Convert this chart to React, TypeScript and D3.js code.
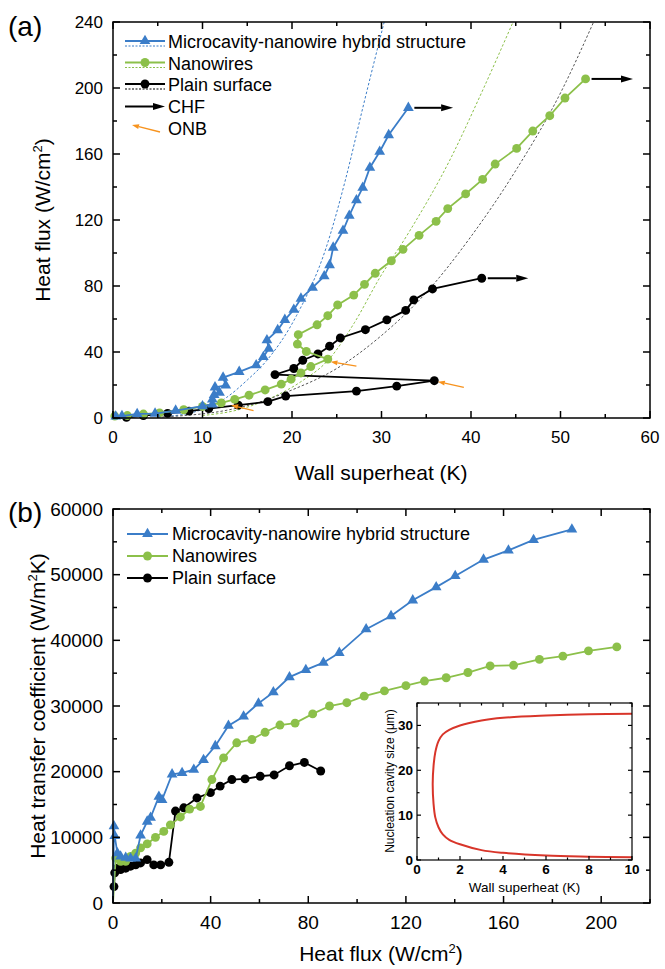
import React from "react";
import * as d3 from "d3";

type Pt = [number, number];

// ---- panel (a): wall superheat (K) vs heat flux (W/cm2)
const hybridA: Pt[] = [
  [0.3, 1.0], [1.0, 1.2], [2.7, 2.5], [4.7, 2.7], [7.0, 4.5], [10.0, 7.2], [11.1, 8.2],
  [11.1, 11.3], [11.3, 14.0], [11.9, 15.4], [11.4, 18.6], [12.6, 19.8], [12.3, 24.5],
  [14.1, 28.0], [16.0, 32.0], [16.8, 37.0], [17.4, 42.0], [17.2, 47.2], [18.4, 53.3],
  [19.2, 59.5], [20.2, 65.6], [21.0, 72.4], [22.3, 79.0], [23.6, 86.0], [24.2, 92.7],
  [24.6, 103.3], [25.7, 113.5], [26.4, 122.6], [27.2, 132.0], [27.9, 139.6], [28.7, 151.7],
  [29.8, 161.4], [30.8, 171.5], [33.0, 188.0],
];
const nanowireA: Pt[] = [
  [0.2, 1.2], [1.6, 1.5], [3.4, 2.4], [5.2, 3.1], [7.9, 5.0], [10.0, 7.0], [12.1, 9.2],
  [13.6, 11.3], [15.2, 13.8], [17.0, 17.0], [18.8, 20.5], [19.9, 23.5], [21.0, 27.3],
  [22.1, 31.2], [24.0, 35.7], [21.6, 40.3], [20.6, 44.8], [20.7, 50.5], [22.8, 56.5],
  [24.0, 62.0], [25.1, 68.5], [26.9, 74.5], [28.1, 81.0], [29.3, 87.7], [31.1, 95.3],
  [32.4, 102.2], [34.2, 110.7], [36.1, 119.2], [37.4, 126.9], [39.4, 135.8], [41.3, 144.6],
  [42.7, 153.9], [45.1, 163.4], [46.9, 173.9], [48.8, 183.2], [50.5, 193.9], [52.8, 205.5],
];
const plainA: Pt[] = [
  [1.5, 0.4], [3.4, 1.5], [6.1, 2.8], [8.5, 4.2], [10.7, 5.7], [14.0, 7.8], [17.3, 9.9],
  [19.3, 13.3], [27.2, 16.3], [31.7, 19.3], [35.9, 22.6], [18.1, 26.3], [20.2, 30.0],
  [21.2, 35.0], [22.9, 38.8], [24.2, 43.5], [25.4, 48.5], [28.2, 53.5], [30.6, 59.5],
  [32.7, 65.2], [33.6, 71.6], [35.7, 78.2], [41.2, 84.7],
];
// dotted fit curves
const hybridFitA: Pt[] = [
  [6, 1], [9, 3.5], [12.7, 12.5], [15, 23], [17.2, 35], [20.5, 62], [23.8, 103], [26, 145], [28, 190], [30.3, 240],
];
const nanowireFitA: Pt[] = [
  [10, 1.5], [14, 5], [18, 13], [21, 22], [24.2, 36], [27, 58], [29.8, 85], [33, 112], [37.7, 157], [41, 195], [44.7, 240],
];
const plainFitA: Pt[] = [
  [5, 0.5], [8, 1.5], [12, 4], [16, 9], [20, 17], [25, 30], [30, 50], [35, 76], [40, 110], [45, 150], [50, 197], [53.7, 240],
];
// CHF arrows: [start superheat, heat flux, end superheat]
const chfArrows: [number, number, number][] = [[33.0, 188, 38.0], [52.8, 205.5, 58.1], [41.2, 84.7, 46.4]];
// ONB arrows: [tail x, tail y, head x, head y]
const onbArrows: [number, number, number, number][] = [
  [15.7, 4.5, 13.2, 7.8], [27.2, 31.5, 24.3, 34.1], [39.2, 18.6, 36.3, 22.0],
];

// ---- panel (b): heat flux (W/cm2) vs heat transfer coefficient (W/m2K)
const hybridB: Pt[] = [
  [0, 0], [0.4, 11700], [0.7, 10200], [1.8, 7600], [3.1, 7100], [5.2, 6900], [7.2, 6800], [9.3, 6800],
  [11.3, 10300], [14.0, 12400], [15.4, 13000], [18.8, 16200], [20.1, 15700], [24.2, 19600],
  [28.3, 19800], [33.1, 20300], [37.1, 21800], [41.9, 23900], [47.3, 27000], [53.5, 28400],
  [59.6, 30400], [65.7, 32100], [72.3, 34400], [79.0, 35500], [86.2, 36600], [92.7, 38100],
  [103.7, 41700], [113.9, 43700], [122.8, 46100], [132.4, 48100], [140.2, 49800], [151.8, 52300],
  [162.0, 53700], [172.3, 55300], [188.0, 56900],
];
const nanowireB: Pt[] = [
  [0, 0], [1.1, 6850], [3.1, 6350], [5.2, 6350], [7.2, 7100], [9.3, 7600], [11.3, 8400], [14.0, 9000],
  [17.4, 10000], [20.8, 10900], [23.5, 11900], [27.6, 13100], [31.4, 14300], [35.8, 14700],
  [40.5, 18800], [45.3, 22100], [50.7, 24400], [56.9, 24900], [62.3, 26000], [68.4, 27100],
  [74.6, 27400], [81.8, 28800], [88.7, 30000], [95.8, 30500], [102.9, 31500], [111.2, 32300],
  [120.0, 33100], [127.6, 33800], [136.5, 34300], [145.4, 35100], [154.5, 36100], [164.1, 36200],
  [174.7, 37100], [184.3, 37600], [194.8, 38400], [206.4, 39000],
];
const plainB: Pt[] = [
  [0.4, 2500], [0.7, 4600], [1.8, 5300], [3.1, 5100], [5.2, 5300], [7.2, 5600], [9.3, 5800],
  [11.3, 6100], [14.0, 6600], [16.7, 5800], [19.5, 5800], [22.9, 6200], [25.6, 14000],
  [29.0, 14500], [34.4, 16000], [39.9, 16800], [43.9, 17800], [48.7, 18800], [54.1, 18900],
  [60.3, 19300], [66.0, 19500], [72.3, 20900], [78.4, 21400], [85.1, 20100],
];

// ---- inset: wall superheat (K) vs nucleation cavity size (um)
const cavityInset: Pt[] = [
  [10, 32.6], [8, 32.5], [6, 32.2], [4, 31.7], [3, 31.1], [2, 30], [1.5, 29], [1.2, 28], [1.0, 26.5],
  [0.85, 24], [0.77, 21], [0.73, 17], [0.77, 12.5], [0.85, 9.5], [1.0, 7.3], [1.2, 5.7], [1.5, 4.5],
  [2, 3.5], [3, 2.2], [4, 1.6], [6, 1.0], [8, 0.75], [10, 0.6],
];

const xTicksA = [0, 10, 20, 30, 40, 50, 60];
const yTicksA = [0, 40, 80, 120, 160, 200, 240];
const xTicksB = [0, 40, 80, 120, 160, 200];
const yTicksB = [0, 10000, 20000, 30000, 40000, 50000, 60000];
const xTicksI = [0, 2, 4, 6, 8, 10];
const yTicksI = [0, 10, 20, 30];

const blue = "#3b7dc8";
const green = "#8cc04a";
const orange = "#f7931e";
const red = "#d8352a";
const font = "Arial, 'Liberation Sans', Helvetica, sans-serif";

const triangle = d3.symbol().type(d3.symbolTriangle).size(50)()!;
const circle = d3.symbol().type(d3.symbolCircle).size(62)()!;

function Arrow({ x1, y1, x2, y2, color, sw, hl, hw }: any) {
  const a = Math.atan2(y2 - y1, x2 - x1);
  const bx = x2 - hl * Math.cos(a);
  const by = y2 - hl * Math.sin(a);
  const px = (-Math.sin(a) * hw) / 2;
  const py = (Math.cos(a) * hw) / 2;
  return (
    <g>
      <line x1={x1} y1={y1} x2={bx} y2={by} stroke={color} strokeWidth={sw} />
      <path d={`M${x2},${y2}L${bx + px},${by + py}L${bx - px},${by - py}Z`} fill={color} />
    </g>
  );
}

function Series({ data, x, y, color, marker }: any) {
  const line = d3.line<Pt>().x((d) => x(d[0])).y((d) => y(d[1]));
  return (
    <g>
      <path d={line(data)!} fill="none" stroke={color} strokeWidth={1.8} />
      {data.map((d: Pt, i: number) =>
        d[1] === 0 ? null : (
          <path key={i} d={marker} fill={color} transform={`translate(${x(d[0])},${y(d[1])})`} />
        )
      )}
    </g>
  );
}

// box frame with inward ticks on all four sides, labels left and bottom
function Frame({ x, y, xMaj, yMaj, xMin, yMin, size, weight, xDy, yDx, maj, min, sw }: any) {
  const [x0, x1] = x.range();
  const [y0, y1] = y.range();
  return (
    <g fontFamily={font} fontSize={size} fontWeight={weight}>
      <rect x={x0} y={y1} width={x1 - x0} height={y0 - y1} fill="none" stroke="#000" strokeWidth={sw} />
      {xMin.map((v: number, i: number) => {
        const len = xMaj.includes(v) ? maj : min;
        return (
          <g key={"x" + i}>
            <line x1={x(v)} x2={x(v)} y1={y0} y2={y0 - len} stroke="#000" strokeWidth={sw} />
            <line x1={x(v)} x2={x(v)} y1={y1} y2={y1 + len} stroke="#000" strokeWidth={sw} />
          </g>
        );
      })}
      {yMin.map((v: number, i: number) => {
        const len = yMaj.includes(v) ? maj : min;
        return (
          <g key={"y" + i}>
            <line x1={x0} x2={x0 + len} y1={y(v)} y2={y(v)} stroke="#000" strokeWidth={sw} />
            <line x1={x1} x2={x1 - len} y1={y(v)} y2={y(v)} stroke="#000" strokeWidth={sw} />
          </g>
        );
      })}
      {xMaj.map((v: number) => (
        <text key={"xl" + v} x={x(v)} y={y0 + xDy} textAnchor="middle">{v}</text>
      ))}
      {yMaj.map((v: number) => (
        <text key={"yl" + v} x={x0 - yDx} y={y(v)} dy="0.35em" textAnchor="end">{v}</text>
      ))}
    </g>
  );
}

const range = (a: number, b: number, s: number) => d3.range(a, b + s / 2, s);

export default function App() {
  const xA = d3.scaleLinear().domain([0, 60]).range([113, 650]);
  const yA = d3.scaleLinear().domain([0, 240]).range([418, 22]);
  const xB = d3.scaleLinear().domain([0, 220]).range([113, 650]);
  const yB = d3.scaleLinear().domain([0, 60000]).range([903, 509]);
  const xI = d3.scaleLinear().domain([0, 10]).range([417, 632]);
  const yI = d3.scaleLinear().domain([0, 35]).range([860, 703]);

  const fit = d3.line<Pt>().x((d) => xA(d[0])).y((d) => yA(d[1])).curve(d3.curveMonotoneX);
  const cav = d3.line<Pt>().x((d) => xI(d[0])).y((d) => yI(d[1])).curve(d3.curveCatmullRom);

  const legA = [
    { label: "Microcavity-nanowire hybrid structure", color: blue, marker: triangle },
    { label: "Nanowires", color: green, marker: circle },
    { label: "Plain surface", color: "#000", marker: circle },
  ];

  return (
    <svg width={665} height={969} style={{ position: "absolute", left: 0, top: 0, background: "#fff" }}>
      <defs>
        <clipPath id="clipA">
          <rect x={113} y={22} width={537} height={396} />
        </clipPath>
      </defs>

      {/* ---------- panel (a) ---------- */}
      <g clipPath="url(#clipA)">
        <path d={fit(hybridFitA)!} fill="none" stroke={blue} strokeWidth={1} strokeDasharray="2.5,2" />
        <path d={fit(nanowireFitA)!} fill="none" stroke={green} strokeWidth={1} strokeDasharray="2.5,2" />
        <path d={fit(plainFitA)!} fill="none" stroke="#555" strokeWidth={1} strokeDasharray="2.5,2" />
      </g>
      <Series data={plainA} x={xA} y={yA} color="#000" marker={circle} />
      <Series data={nanowireA} x={xA} y={yA} color={green} marker={circle} />
      <Series data={hybridA} x={xA} y={yA} color={blue} marker={triangle} />
      {chfArrows.map((d, i) => (
        <Arrow key={i} x1={xA(d[0]) + 6} y1={yA(d[1])} x2={xA(d[2])} y2={yA(d[1])} color="#000" sw={2} hl={12} hw={7} />
      ))}
      {onbArrows.map((d, i) => (
        <Arrow key={i} x1={xA(d[0])} y1={yA(d[1])} x2={xA(d[2])} y2={yA(d[3])} color={orange} sw={1.3} hl={7} hw={5} />
      ))}
      <Frame x={xA} y={yA} xMaj={xTicksA} yMaj={yTicksA} xMin={range(0, 60, 5)} yMin={range(0, 240, 20)}
        size={17} weight="normal" xDy={25} yDx={10} maj={7} min={4} sw={1.5} />

      {/* legend (a) */}
      <g fontFamily={font} fontSize={18}>
        {legA.map((l, i) => {
          const cy = 42 + i * 21.5;
          return (
            <g key={i}>
              <line x1={125} x2={165} y1={cy - 1} y2={cy - 1} stroke={l.color} strokeWidth={1.8} />
              <line x1={125} x2={165} y1={cy + 4} y2={cy + 4} stroke={l.color} strokeWidth={1} strokeDasharray="2,1.5" />
              <path d={l.marker} fill={l.color} transform={`translate(145,${cy - 1})`} />
              <text x={168} y={cy} dy="0.35em">{l.label}</text>
            </g>
          );
        })}
        <Arrow x1={125} y1={106.5} x2={165} y2={106.5} color="#000" sw={2} hl={12} hw={7} />
        <text x={168} y={107} dy="0.35em">CHF</text>
        <Arrow x1={160} y1={132} x2={132} y2={125} color={orange} sw={1.3} hl={7} hw={5} />
        <text x={168} y={128.5} dy="0.35em">ONB</text>
      </g>

      <text x={8} y={36} fontFamily={font} fontSize={28}>(a)</text>
      <text x={381} y={480} fontFamily={font} fontSize={21} textAnchor="middle">Wall superheat (K)</text>
      <text transform="translate(50,220) rotate(-90)" fontFamily={font} fontSize={21} textAnchor="middle">
        Heat flux (W/cm<tspan dy={-8} fontSize={13}>2</tspan><tspan dy={8}>)</tspan>
      </text>

      {/* ---------- panel (b) ---------- */}
      <Series data={plainB} x={xB} y={yB} color="#000" marker={circle} />
      <Series data={nanowireB} x={xB} y={yB} color={green} marker={circle} />
      <Series data={hybridB} x={xB} y={yB} color={blue} marker={triangle} />
      <Frame x={xB} y={yB} xMaj={xTicksB} yMaj={yTicksB} xMin={range(0, 220, 20)} yMin={range(0, 60000, 5000)}
        size={19} weight="normal" xDy={26} yDx={10} maj={7} min={4} sw={1.5} />

      <g fontFamily={font} fontSize={18}>
        {legA.map((l, i) => {
          const cy = 534 + i * 22;
          return (
            <g key={i}>
              <line x1={127} x2={168} y1={cy} y2={cy} stroke={l.color} strokeWidth={1.8} />
              <path d={l.marker} fill={l.color} transform={`translate(147.5,${cy})`} />
              <text x={172} y={cy} dy="0.35em">{l.label}</text>
            </g>
          );
        })}
      </g>

      <text x={8} y={522} fontFamily={font} fontSize={28}>(b)</text>
      <text x={381} y={961} fontFamily={font} fontSize={21} textAnchor="middle">
        Heat flux (W/cm<tspan dy={-8} fontSize={13}>2</tspan><tspan dy={8}>)</tspan>
      </text>
      <text transform="translate(45,706) rotate(-90)" fontFamily={font} fontSize={21} textAnchor="middle">
        Heat transfer coefficient (W/m<tspan dy={-8} fontSize={13}>2</tspan><tspan dy={8}>K)</tspan>
      </text>

      {/* ---------- inset ---------- */}
      <rect x={417} y={703} width={215} height={157} fill="#fff" />
      <path d={cav(cavityInset)!} fill="none" stroke={red} strokeWidth={2} />
      <Frame x={xI} y={yI} xMaj={xTicksI} yMaj={yTicksI} xMin={range(0, 10, 1)} yMin={range(0, 35, 5)}
        size={13.5} weight="bold" xDy={14} yDx={4} maj={4} min={2.5} sw={1.2} />
      <text x={524.5} y={892} fontFamily={font} fontSize={13.5} textAnchor="middle">Wall superheat (K)</text>
      <text transform="translate(394,781) rotate(-90)" fontFamily={font} fontSize={12} textAnchor="middle">
        Nucleation cavity size (μm)
      </text>
    </svg>
  );
}
